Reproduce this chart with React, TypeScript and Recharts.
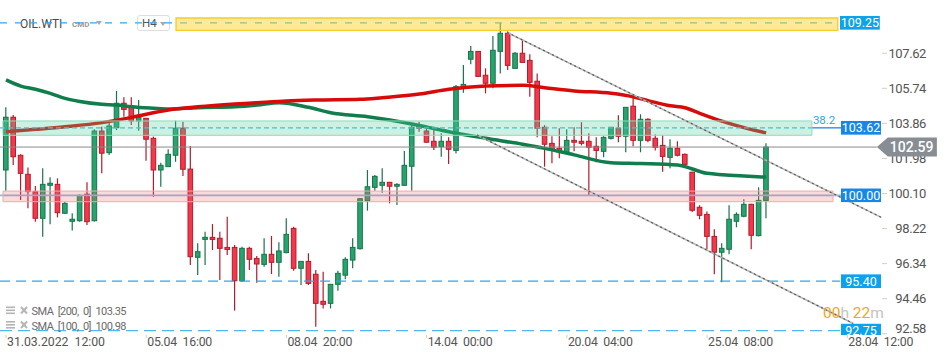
import React from 'react';
import { ComposedChart, Bar, Line, XAxis, YAxis, ReferenceArea, ReferenceLine, ReferenceDot } from 'recharts';

// [open, high, low, close] per H4 candle
const ohlc: [number, number, number, number][] = [
  [101.36, 104.72, 100.25, 104.19], [104.19, 104.31, 101.63, 102.07], [102.15, 102.2, 99.75, 101.18], [101.13, 101.5, 99.31, 100.2],
  [100.2, 100.5, 98.59, 98.77], [98.77, 101.45, 97.78, 100.59], [100.54, 100.97, 98.45, 100.65], [100.59, 100.91, 98.82, 99.07],
  [99.04, 99.66, 99.0, 99.57], [98.61, 99.04, 98.11, 98.72], [98.64, 100.05, 98.59, 100.0], [100.06, 100.7, 98.41, 98.59],
  [98.64, 103.54, 98.6, 103.45], [103.45, 103.68, 101.18, 102.26], [102.29, 103.95, 102.16, 103.72], [103.63, 105.6, 103.5, 104.94],
  [104.94, 105.26, 104.22, 104.61], [104.79, 105.26, 103.77, 103.99], [103.99, 105.11, 103.47, 104.19], [104.13, 104.15, 101.86, 103.01],
  [103.06, 103.15, 99.93, 101.36], [101.36, 101.75, 100.46, 101.61], [101.54, 102.47, 101.52, 102.2], [102.15, 104.0, 101.8, 103.6],
  [103.6, 103.95, 101.04, 101.4], [101.41, 102.65, 96.27, 96.71], [96.68, 97.43, 95.73, 96.98], [97.64, 98.05, 96.27, 97.75],
  [97.75, 98.46, 97.07, 97.64], [97.7, 98.05, 95.46, 97.16], [97.21, 98.86, 96.8, 97.1], [97.21, 97.34, 93.82, 95.42],
  [95.42, 97.25, 95.35, 97.16], [97.16, 97.25, 96.0, 96.57], [96.62, 96.75, 95.32, 96.32], [96.3, 97.7, 96.17, 96.84],
  [96.84, 97.82, 95.78, 96.41], [96.41, 97.48, 95.64, 97.02], [96.93, 98.77, 96.89, 97.91], [98.23, 98.32, 95.96, 96.09],
  [96.09, 96.46, 95.19, 96.46], [96.46, 96.89, 95.19, 95.28], [95.77, 96.0, 92.96, 94.21], [94.32, 95.91, 93.94, 94.16],
  [94.21, 95.25, 93.94, 95.23], [95.23, 95.96, 94.89, 95.82], [95.72, 96.68, 95.5, 96.57], [96.53, 97.7, 96.09, 97.21],
  [97.14, 99.85, 97.1, 99.82], [99.71, 101.36, 99.18, 100.46], [100.43, 101.09, 100.25, 101.02], [100.54, 101.45, 100.14, 100.7],
  [100.7, 100.72, 99.57, 100.49], [100.49, 100.65, 99.48, 100.59], [100.54, 102.38, 100.52, 101.61], [101.56, 103.86, 100.25, 103.65],
  [103.7, 103.95, 103.41, 103.6], [103.45, 103.61, 102.83, 102.85], [102.9, 103.65, 102.43, 102.58], [102.61, 103.33, 102.07, 102.9],
  [102.9, 103.11, 101.68, 102.47], [102.41, 105.92, 102.25, 105.83], [105.83, 106.99, 105.5, 105.95], [107.3, 108.01, 107.03, 107.72],
  [107.72, 107.74, 106.36, 106.38], [106.44, 106.81, 105.47, 106.01], [106.01, 108.54, 105.74, 107.78], [107.72, 109.25, 106.54, 108.69],
  [108.69, 108.78, 106.72, 106.97], [106.81, 107.69, 106.8, 107.62], [107.62, 108.33, 107.12, 107.13], [107.24, 107.56, 105.29, 106.06],
  [106.12, 106.54, 103.11, 103.6], [103.65, 103.76, 101.54, 102.74], [102.79, 103.17, 101.72, 102.41], [102.52, 103.6, 101.99, 102.34],
  [102.31, 103.54, 102.26, 102.95], [102.95, 103.65, 102.36, 102.85], [102.9, 103.92, 102.68, 102.79], [102.9, 103.33, 99.97, 102.58],
  [102.63, 103.11, 101.77, 102.41], [102.36, 103.17, 102.04, 103.11], [103.06, 103.67, 103.0, 103.65], [103.6, 104.29, 102.85, 103.17],
  [103.17, 104.74, 102.31, 104.72], [104.78, 105.31, 102.63, 102.95], [102.95, 104.35, 102.31, 104.08], [104.08, 104.13, 102.85, 102.95],
  [103.06, 103.27, 102.41, 102.58], [102.68, 103.22, 101.27, 102.09], [102.04, 103.01, 101.45, 102.52], [102.52, 102.9, 102.09, 102.15],
  [102.2, 102.25, 101.61, 101.66], [101.24, 101.27, 99.11, 99.2], [99.36, 99.47, 98.72, 98.93], [98.98, 99.14, 97.11, 97.8],
  [97.8, 98.18, 95.77, 96.95], [96.95, 97.43, 95.34, 97.16], [97.11, 99.47, 96.84, 98.72], [98.61, 99.09, 98.29, 98.98],
  [98.88, 99.79, 98.82, 99.52], [99.52, 99.55, 97.11, 97.86], [97.84, 100.43, 97.8, 99.73], [99.73, 102.79, 98.77, 102.59],
];

// SMA readings: [candle index, value]
const sma200Points: [number, number][] = [
  [0, 103.41], [4, 103.54], [8, 103.68], [13, 103.9], [17, 104.18], [22, 104.58], [26, 104.75], [31, 104.9], [34, 104.97],
  [38, 105.06], [42, 105.11], [48, 105.15], [51, 105.24], [56, 105.43], [60, 105.69], [65, 105.86], [70, 105.9], [73, 105.77],
  [77, 105.6], [82, 105.47], [85, 105.28], [87, 105.08], [90, 104.8], [92, 104.7], [94, 104.4], [97, 103.98], [100, 103.63], [103, 103.35],
];
const sma100Points: [number, number][] = [
  [0, 106.19], [2, 105.86], [4, 105.69], [6, 105.47], [8, 105.2], [10, 105.03], [13, 104.88], [15, 104.84], [17, 104.75],
  [20, 104.67], [22, 104.63], [26, 104.7], [31, 104.75], [34, 104.84], [37, 104.97], [41, 104.72], [44, 104.43], [49, 104.22],
  [52, 104.04], [56, 103.75], [60, 103.41], [65, 103.06], [70, 102.74], [73, 102.52], [77, 102.17], [82, 101.75], [86, 101.71],
  [91, 101.63], [95, 101.18], [100, 101.04], [103, 100.98],
];

const xTickIndex = [0, 19, 38, 57, 76, 95, 114];
const xTickLabels = ['31.03.2022  12:00', '05.04  16:00', '08.04  20:00', '14.04  00:00', '20.04  04:00', '25.04  08:00', '28.04  12:00'];
const yTicks = [107.62, 105.74, 103.86, 101.98, 100.1, 98.22, 96.34, 94.46, 92.58];

const topLevel = 109.25;
const resistanceZone = [108.85, 109.51];
const fibZone = [103.22, 103.99];
const fibLevel = 103.62;
const fibLabel = '38.2';
const lastPrice = 102.59;
const supportZone = [99.66, 100.23];
const roundLevel = 100.0;
const lowLevel1 = 95.4;
const lowLevel2 = 92.75;
const channelUpper: [number, number][] = [[67.9, 108.74], [118.6, 98.82]];
const channelLower: [number, number][] = [[63.8, 103.24], [114.8, 93.13]];
const sma200Last = 103.35;
const sma100Last = 100.98;

const X_DOMAIN: [number, number] = [-0.813, 127.91];
const Y_DOMAIN: [number, number] = [92.513, 110.475];
const X0 = X_DOMAIN[0];
const TAG_X = 113.14;

const candleData = ohlc.map(([o, h, l, c], i) => ({ i, o, h, l, c, range: [l, h] }));
const sma200Data = sma200Points.map(([i, v]) => ({ i, v }));
const sma100Data = sma100Points.map(([i, v]) => ({ i, v }));

const FONT = 'Roboto, "DejaVu Sans", sans-serif';

const Candle = (props: any) => {
  const { x, y, width, height, payload } = props;
  if (!payload || x == null) return null;
  const { o, h, l, c } = payload;
  const top = Math.min(y, y + height);
  const bot = Math.max(y, y + height);
  const span = h - l || 1;
  const py = (v: number) => top + ((h - v) / span) * (bot - top);
  const up = c >= o;
  const cx = x + width / 2;
  const bt = py(Math.max(o, c));
  const bb = py(Math.min(o, c));
  const bh = Math.max(bb - bt, 1.5);
  const fill = up ? '#27a36e' : '#f2394b';
  const edge = up ? '#17744a' : '#b31b2b';
  return (
    <g>
      <line x1={cx} x2={cx} y1={top} y2={bot} stroke={edge} strokeWidth={1.2} />
      <rect x={cx - 2.3} y={bt} width={4.6} height={bh} fill={fill} stroke={edge} strokeWidth={1} />
    </g>
  );
};

const XTick = (props: any) => {
  const { x, payload } = props;
  const idx = xTickIndex.indexOf(payload.value);
  const label = xTickLabels[idx] || '';
  return (
    <g>
      <line x1={x} x2={x} y1={335} y2={338} stroke="#cfcfcf" />
      <text
        x={x + 1} y={345.5} fontSize={12.3} fill="#555" fontFamily={FONT} style={{ whiteSpace: 'pre' }}
        textLength={idx === 0 ? 98 : 65} lengthAdjust="spacing"
      >
        {label}
      </text>
    </g>
  );
};

const YTick = (props: any) => {
  const { y, payload } = props;
  const ty = Math.min(y, 328);
  return (
    <g>
      <line x1={882} x2={887} y1={y} y2={y} stroke="#d0d0d0" />
      <text x={926} y={ty + 4.5} textAnchor="end" fontSize={13} letterSpacing={-0.4} fill="#555" fontFamily={FONT}>
        {Number(payload.value).toFixed(2)}
      </text>
    </g>
  );
};

const Tag = ({ cx, cy, text, color, maxBottom }: any) => {
  const top = cy - 7;
  const bottom = maxBottom != null ? Math.min(cy + 7, maxBottom) : cy + 7;
  const id = `clip-${text.replace('.', '-')}`;
  return (
    <g>
      <defs>
        <clipPath id={id}>
          <rect x={cx} y={top} width={40} height={bottom - top} />
        </clipPath>
      </defs>
      <g clipPath={`url(#${id})`}>
        <rect x={cx} y={top} width={40} height={bottom - top} fill={color} />
        <text x={cx + 20} y={cy + 4.5} textAnchor="middle" fill="#fff" fontSize={12.5} fontFamily={FONT}>
          {text}
        </text>
      </g>
    </g>
  );
};

const PriceArrow = ({ cx, cy, text }: any) => (
  <g>
    <polygon
      points={`${cx},${cy} ${cx + 11},${cy - 9.5} ${cx + 60},${cy - 9.5} ${cx + 60},${cy + 9.5} ${cx + 11},${cy + 9.5}`}
      fill="#878d92"
    />
    <text x={cx + 13} y={cy + 5} fill="#fff" fontSize={14} fontWeight={500} fontFamily={FONT}>
      {text}
    </text>
  </g>
);

const FibText = ({ cx, cy }: any) => (
  <text x={cx + 1} y={cy + 3} fill="#2aa8e8" fontSize={11.5} fontFamily={FONT}>
    {fibLabel}
  </text>
);

const Tri = ({ left, top }: { left: number; top: number }) => (
  <div
    style={{
      position: 'absolute', left, top, width: 0, height: 0,
      borderLeft: '3.5px solid transparent', borderRight: '3.5px solid transparent', borderTop: '4px solid #a8a8a8',
    }}
  />
);

const LegendRow = ({ y, text }: { y: number; text: string }) => (
  <g>
    <rect x={6} y={y - 4.5} width={9} height={1.6} fill="#b5b5b5" />
    <rect x={6} y={y - 1.5} width={9} height={1.6} fill="#b5b5b5" />
    <rect x={6} y={y + 1.5} width={9} height={1.6} fill="#b5b5b5" />
    <line x1={21} y1={y - 4} x2={27} y2={y + 2.5} stroke="#b5b5b5" strokeWidth={2} />
    <line x1={27} y1={y - 4} x2={21} y2={y + 2.5} stroke="#b5b5b5" strokeWidth={2} />
    <text x={31.5} y={y + 4} fontSize={11} fill="#6a6a6a" fontFamily={FONT} textLength={95} lengthAdjust="spacing" style={{ whiteSpace: 'pre' }}>
      {text}
    </text>
  </g>
);

export default function App() {
  const hi = 1800;
  return (
    <div style={{ position: 'absolute', left: 0, top: 0, width: 950, height: 358, background: '#fff', fontFamily: FONT, overflow: 'hidden' }}>
      {/* header (beneath the chart layer) */}
      <div style={{ position: 'absolute', left: 20, top: 16, fontSize: 12, color: '#4a4a4a', lineHeight: '16px' }}>OIL.WTI</div>
      <div style={{ position: 'absolute', left: 72, top: 19, fontSize: 8, color: '#9a9a9a', fontWeight: 700, lineHeight: '12px' }}>CMD</div>
      <Tri left={96} top={21} />
      <div
        style={{
          position: 'absolute', left: 137, top: 15, width: 33, height: 16, border: '1px solid #dedede', borderRadius: 3,
          background: '#fff', boxSizing: 'border-box',
        }}
      />
      <div style={{ position: 'absolute', left: 142, top: 16, fontSize: 11.5, color: '#555', lineHeight: '15px' }}>H4</div>
      <Tri left={160} top={22} />

      <div style={{ position: 'absolute', left: 0, top: 0 }}>
        <ComposedChart width={950} height={358} data={candleData} margin={{ top: 0, right: 0, bottom: 0, left: 0 }}>
          <XAxis
            type="number" dataKey="i" domain={X_DOMAIN} allowDataOverflow ticks={xTickIndex} interval={0}
            tick={<XTick />} tickLine={false} axisLine={false} height={23}
          />
          <YAxis
            type="number" orientation="right" mirror domain={Y_DOMAIN} allowDataOverflow ticks={yTicks} interval={0}
            tick={<YTick />} tickLine={false} axisLine={false} width={60}
          />
          <Bar dataKey="range" barSize={5} shape={<Candle />} isAnimationActive={false} />
          <Line
            data={sma100Data} dataKey="v" type="monotone" stroke="#0f7d4c" strokeWidth={3.5} strokeLinecap="butt"
            dot={false} activeDot={false} legendType="none" isAnimationActive={false}
          />
          <Line
            data={sma200Data} dataKey="v" type="monotone" stroke="#d90a0a" strokeWidth={3.5} strokeLinecap="butt"
            dot={false} activeDot={false} legendType="none" isAnimationActive={false}
          />

          <ReferenceLine segment={[{ x: X0, y: topLevel }, { x: 113.0, y: topLevel }]} stroke="#34a6e6" strokeDasharray="7 8" strokeWidth={1.3} zIndex={hi} />
          <ReferenceLine segment={[{ x: X0, y: lowLevel1 }, { x: 113.0, y: lowLevel1 }]} stroke="#2ba8ec" strokeDasharray="10 6" strokeWidth={1.3} zIndex={hi} />
          <ReferenceLine segment={[{ x: X0, y: lowLevel2 }, { x: 113.0, y: lowLevel2 }]} stroke="#4fb9ef" strokeDasharray="12 6" strokeWidth={1.3} zIndex={hi} />
          <ReferenceLine segment={[{ x: X0, y: lastPrice }, { x: 118.0, y: lastPrice }]} stroke="#8a8a8a" strokeWidth={1} zIndex={hi} />
          <ReferenceLine segment={[{ x: X0, y: fibLevel }, { x: 109.2, y: fibLevel }]} stroke="#4cb8ea" strokeDasharray="5 3" strokeWidth={1.3} zIndex={hi} />
          <ReferenceLine segment={[{ x: 109.2, y: fibLevel }, { x: TAG_X, y: fibLevel }]} stroke="#1e88e5" strokeWidth={1.3} zIndex={hi} />
          <ReferenceLine segment={[{ x: X0, y: roundLevel }, { x: TAG_X, y: roundLevel }]} stroke="#8fb4e6" strokeWidth={1.6} zIndex={hi} />

          <ReferenceArea x1={23.04} x2={112.7} y1={resistanceZone[0]} y2={resistanceZone[1]} fill="#f9d532" fillOpacity={0.5} stroke="#f3cd2a" strokeWidth={1.3} zIndex={hi} />
          <ReferenceArea x1={-0.41} x2={109.2} y1={fibZone[0]} y2={fibZone[1]} fill="#50d2a0" fillOpacity={0.3} stroke="#8ddcbe" strokeWidth={1} zIndex={hi} />
          <ReferenceArea x1={-0.41} x2={112.06} y1={supportZone[0]} y2={supportZone[1]} fill="#f0646e" fillOpacity={0.24} stroke="#f0a8af" strokeWidth={1} zIndex={hi} />

          <ReferenceLine segment={[{ x: channelUpper[0][0], y: channelUpper[0][1] }, { x: channelUpper[1][0], y: channelUpper[1][1] }]} stroke="#b4b4b4" strokeWidth={1.6} zIndex={hi} />
          <ReferenceLine segment={[{ x: channelUpper[0][0], y: channelUpper[0][1] }, { x: channelUpper[1][0], y: channelUpper[1][1] }]} stroke="#5a5a5a" strokeWidth={1.2} strokeDasharray="2 3" zIndex={hi} />
          <ReferenceLine segment={[{ x: channelLower[0][0], y: channelLower[0][1] }, { x: channelLower[1][0], y: channelLower[1][1] }]} stroke="#b4b4b4" strokeWidth={1.6} zIndex={hi} />
          <ReferenceLine segment={[{ x: channelLower[0][0], y: channelLower[0][1] }, { x: channelLower[1][0], y: channelLower[1][1] }]} stroke="#5a5a5a" strokeWidth={1.2} strokeDasharray="2 3" zIndex={hi} />

          <ReferenceDot x={109.2} y={fibZone[1]} r={0} shape={(p: any) => <FibText cx={p.cx} cy={p.cy} />} zIndex={2500} />
          <ReferenceDot x={TAG_X - 0.15} y={topLevel} r={0} shape={(p: any) => <Tag cx={p.cx} cy={p.cy} text={topLevel.toFixed(2)} color="#0da2ec" />} zIndex={2500} />
          <ReferenceDot x={TAG_X} y={fibLevel} r={0} shape={(p: any) => <Tag cx={p.cx} cy={p.cy} text={fibLevel.toFixed(2)} color="#1687e6" />} zIndex={2500} />
          <ReferenceDot x={TAG_X} y={roundLevel} r={0} shape={(p: any) => <Tag cx={p.cx} cy={p.cy} text={roundLevel.toFixed(2)} color="#1687e6" />} zIndex={2500} />
          <ReferenceDot x={TAG_X} y={lowLevel1} r={0} shape={(p: any) => <Tag cx={p.cx} cy={p.cy} text={lowLevel1.toFixed(2)} color="#0da2ec" />} zIndex={2500} />
          <ReferenceDot x={TAG_X} y={lowLevel2} r={0} shape={(p: any) => <Tag cx={p.cx} cy={p.cy} text={lowLevel2.toFixed(2)} color="#0da2ec" maxBottom={335} />} zIndex={2500} />
          <ReferenceDot x={118.0} y={lastPrice} r={0} shape={(p: any) => <PriceArrow cx={p.cx} cy={p.cy} text={lastPrice.toFixed(2)} />} zIndex={2600} />
        </ComposedChart>
      </div>

      {/* indicator legend */}
      <svg style={{ position: 'absolute', left: 0, top: 0 }} width={140} height={358}>
        <LegendRow y={311} text={`SMA  [200,  0]  ${sma200Last.toFixed(2)}`} />
        <LegendRow y={325.5} text={`SMA  [100,  0]  ${sma100Last.toFixed(2)}`} />
      </svg>

      {/* candle countdown */}
      <div style={{ position: 'absolute', left: 823, top: 304, fontSize: 15.5, lineHeight: '18px', whiteSpace: 'pre' }}>
        <span style={{ color: '#f5a524' }}>00</span>
        <span style={{ color: '#c4c4c4' }}>h </span>
        <span style={{ color: '#f5a524' }}>22</span>
        <span style={{ color: '#c4c4c4' }}>m</span>
      </div>
    </div>
  );
}
